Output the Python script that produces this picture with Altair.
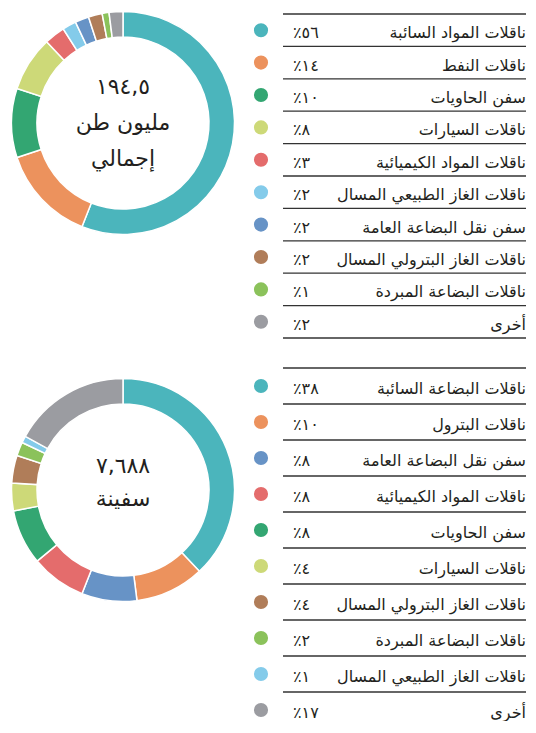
import altair as alt
import pandas as pd

AR_DIGITS = str.maketrans("0123456789", "٠١٢٣٤٥٦٧٨٩")


def ar(n):
    return str(n).translate(AR_DIGITS)


# ---------------- data ----------------
top_labels = [
    "ناقلات المواد السائبة",
    "ناقلات النفط",
    "سفن الحاويات",
    "ناقلات السيارات",
    "ناقلات المواد الكيميائية",
    "ناقلات الغاز الطبيعي المسال",
    "سفن نقل البضاعة العامة",
    "ناقلات الغاز البترولي المسال",
    "ناقلات البضاعة المبردة",
    "أخرى",
]
top_values = [56, 14, 10, 8, 3, 2, 2, 2, 1, 2]
top_center = ["١٩٤,٥", "مليون طن", "إجمالي"]

bottom_labels = [
    "ناقلات البضاعة السائبة",
    "ناقلات البترول",
    "سفن نقل البضاعة العامة",
    "ناقلات المواد الكيميائية",
    "سفن الحاويات",
    "ناقلات السيارات",
    "ناقلات الغاز البترولي المسال",
    "ناقلات البضاعة المبردة",
    "ناقلات الغاز الطبيعي المسال",
    "أخرى",
]
bottom_values = [38, 10, 8, 8, 8, 4, 4, 2, 1, 17]
bottom_center = ["٧,٦٨٨", "سفينة"]

# ---------------- styles ----------------
ring_palette = {
    "ناقلات المواد السائبة": "#4bb5bc",
    "ناقلات البضاعة السائبة": "#4bb5bc",
    "ناقلات النفط": "#ec925d",
    "ناقلات البترول": "#ec925d",
    "سفن الحاويات": "#33a672",
    "ناقلات السيارات": "#cdd978",
    "ناقلات المواد الكيميائية": "#e46c6c",
    "ناقلات الغاز الطبيعي المسال": "#84cbea",
    "سفن نقل البضاعة العامة": "#6793c6",
    "ناقلات الغاز البترولي المسال": "#b07d59",
    "ناقلات البضاعة المبردة": "#8bc25b",
    "أخرى": "#9b9ca1",
}
dot_palette = {
    "ناقلات المواد السائبة": "#40c1c8",
    "ناقلات البضاعة السائبة": "#40c1c8",
    "ناقلات النفط": "#f79357",
    "ناقلات البترول": "#f79357",
    "سفن الحاويات": "#13b07b",
    "ناقلات السيارات": "#d4e06e",
    "ناقلات المواد الكيميائية": "#ef7070",
    "ناقلات الغاز الطبيعي المسال": "#80d2f6",
    "سفن نقل البضاعة العامة": "#699ad5",
    "ناقلات الغاز البترولي المسال": "#b27751",
    "ناقلات البضاعة المبردة": "#8cca5b",
    "أخرى": "#97979b",
}

FONT = "DejaVu Sans"
TEXT_COLOR = "#231f20"
TABLE_W = 280


def donut(labels, values, center, height, lh, dy0):
    df = pd.DataFrame({"label": labels, "value": values, "order": list(range(len(labels)))})
    arc = alt.Chart(df).mark_arc(
        radius=111.5, radius2=86, stroke="white", strokeWidth=1.5
    ).encode(
        theta=alt.Theta("value:Q", stack=True),
        order=alt.Order("order:Q"),
        color=alt.Color(
            "label:N",
            scale=alt.Scale(domain=labels, range=[ring_palette[l] for l in labels]),
            legend=None,
        ),
    )
    layers = [arc]
    for k, line in enumerate(center):
        layers.append(
            alt.Chart(alt.Data(values=[{"t": line}])).mark_text(
                font=FONT, fontSize=22, baseline="middle", align="center",
                dy=dy0 + k * lh, color=TEXT_COLOR,
            ).encode(text="t:N")
        )
    return alt.layer(*layers).properties(width=224, height=height)


def table(labels, values, n_lines, domain_max, range_end, height):
    df = pd.DataFrame({
        "label": labels,
        "pct": ["٪" + ar(v) for v in values],
        "row": [i + 0.5 for i in range(len(labels))],
    })
    lines_df = pd.DataFrame({"pos": list(range(n_lines))})
    ysc = alt.Scale(domain=[0, domain_max], range=[3, range_end], nice=False, zero=False)
    rules = alt.Chart(lines_df).mark_rule(color="#333333", strokeWidth=1.3).encode(
        y=alt.Y("pos:Q", scale=ysc, axis=None),
        x=alt.value(37),
        x2=alt.value(TABLE_W),
    )
    dots = alt.Chart(df).mark_circle(size=200, opacity=1).encode(
        y=alt.Y("row:Q", scale=ysc, axis=None),
        x=alt.value(15),
        color=alt.Color(
            "label:N",
            scale=alt.Scale(domain=labels, range=[dot_palette[l] for l in labels]),
            legend=None,
        ),
    )
    names = alt.Chart(df).mark_text(
        font=FONT, fontSize=16, align="right", baseline="middle", dy=3, color=TEXT_COLOR
    ).encode(
        y=alt.Y("row:Q", scale=ysc, axis=None),
        x=alt.value(TABLE_W),
        text="label:N",
    )
    pcts = alt.Chart(df).mark_text(
        font=FONT, fontSize=16, align="left", baseline="middle", dy=3, color=TEXT_COLOR
    ).encode(
        y=alt.Y("row:Q", scale=ysc, axis=None),
        x=alt.value(47),
        text="pct:N",
    )
    return alt.layer(rules, dots, names, pcts).properties(width=TABLE_W, height=height)


top_row = alt.hconcat(
    donut(top_labels, top_values, top_center, 224, 36, -36),
    table(top_labels, top_values, 11, 10, 327, 330),
    spacing=8,
)

bottom_row = alt.hconcat(
    donut(bottom_labels, bottom_values, bottom_center, 250, 33, -24),
    table(bottom_labels, bottom_values, 10, 9, 327, 354),
    spacing=8,
)

chart = alt.vconcat(top_row, bottom_row, spacing=24).resolve_scale(
    color="independent"
).properties(padding=0).configure_view(strokeWidth=0)

chart.save("out.html", embed_options={"renderer": "svg", "actions": False})
